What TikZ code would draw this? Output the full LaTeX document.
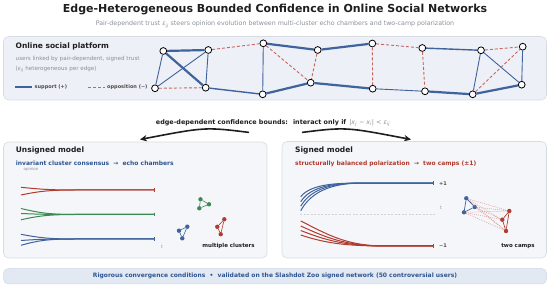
\documentclass[tikz,border=0pt]{standalone}
\usepackage{fontspec}
\setmainfont{DejaVu Sans}
\usetikzlibrary{arrows.meta}
\definecolor{supc}{HTML}{3F639C}
\definecolor{oppc}{HTML}{C8665E}
\definecolor{blueT}{HTML}{2F5590}
\definecolor{redT}{HTML}{B23A2E}
\definecolor{greenT}{HTML}{3A8A52}
\definecolor{grayT}{HTML}{8A8F98}
\definecolor{dark}{HTML}{1E1E1E}
\definecolor{panelA}{HTML}{EDF0F6}
\definecolor{panelB}{HTML}{F5F6F9}
\definecolor{panelE}{HTML}{D7DBE2}
\definecolor{barF}{HTML}{E2E9F3}
\definecolor{barE}{HTML}{CFD8E6}
\newcommand{\mysub}[1]{\textsubscript{#1}}
\tikzset{
  panel/.style={rounded corners=5pt, draw=panelE, line width=0.6pt},
  net/.style={circle, draw=black, fill=white, line width=0.8pt, inner sep=0pt, minimum size=6.8pt},
  thk/.style={supc, line width=2.2pt},
  med/.style={supc, line width=1.4pt},
  thn/.style={supc, line width=0.9pt},
  opp/.style={oppc, line width=0.9pt, dash pattern=on 3pt off 2pt},
  dotn/.style={circle, inner sep=0pt, minimum size=4.4pt},
  traj/.style={line width=1pt, -{Bar[width=3.5pt,line width=0.8pt]}},
  ttl/.style={font=\fontsize{7.5}{9}\selectfont\bfseries, text=dark, anchor=west, inner sep=0pt},
}
\begin{document}
\begin{tikzpicture}[x=1pt,y=-1pt]
\useasboundingbox (0,0) rectangle (550,286);

% title
\node[font=\fontsize{11}{12}\selectfont\bfseries, text=dark] (title) at (275,10) {Edge-Heterogeneous Bounded Confidence in Online Social Networks};
\node[font=\fontsize{6.3}{7}\selectfont, text=grayT] (sub) at (275,24.6) {Pair-dependent trust \textit{ε\mysub{ij}} steers opinion evolution between multi-cluster echo chambers and two-camp polarization};

% top panel
\fill[panelA, panel] (3.5,36.5) rectangle (546.5,100);
\node[ttl] (osp) at (15.5,46) {Online social platform};
\node[font=\fontsize{5.6}{7}\selectfont, text=grayT, anchor=west, inner sep=0pt] (u1) at (15.5,59) {users linked by pair-dependent, signed trust};
\node[font=\fontsize{5.6}{7}\selectfont, text=grayT, anchor=west, inner sep=0pt] (u2) at (15.5,69) {(\textit{ε\mysub{ij}} heterogeneous per edge)};
\coordinate (ls1) at (15,87); \coordinate (ls2) at (32,87);
\draw[thk] (ls1) -- (ls2);
\node[font=\fontsize{5}{6}\selectfont\bfseries, text=dark!80, anchor=west, inner sep=0pt] (lsup) at (34.5,87) {support (+)};
\coordinate (lo1) at (88,87); \coordinate (lo2) at (105,87);
\draw[opp] (lo1) -- (lo2);
\node[font=\fontsize{5}{6}\selectfont\bfseries, text=dark!80, anchor=west, inner sep=0pt] (lopp) at (107,87) {opposition (−)};

% network nodes
\node[net] (A) at (163.3,51) {};
\node[net] (B) at (208.3,50) {};
\node[net] (C) at (155,88.3) {};
\node[net] (D) at (205.7,87.7) {};
\node[net] (E) at (263.3,43.3) {};
\node[net] (F) at (317.7,50) {};
\node[net] (G) at (262.7,94.3) {};
\node[net] (H) at (310.7,82.7) {};
\node[net] (I) at (372.3,43.5) {};
\node[net] (J) at (422.3,48) {};
\node[net] (K) at (481,50.3) {};
\node[net] (L) at (522.7,46.7) {};
\node[net] (M) at (372.7,88.7) {};
\node[net] (N) at (425,91.3) {};
\node[net] (O) at (472.7,94.3) {};
\node[net] (P) at (521.7,84.7) {};

\draw[thk] (A) -- (B);
\draw[thn] (A) -- (C);
\draw[thk] (A) -- (D);
\draw[thn] (B) -- (C);
\draw[thn] (B) -- (D);
\draw[opp] (C) -- (D);
\draw[opp] (B) -- (E);
\draw[thk] (E) -- (F);
\draw[thn] (E) -- (G);
\draw[opp] (E) -- (H);
\draw[opp] (F) -- (H);
\draw[med] (D) -- (G);
\draw[thk] (G) -- (H);
\draw[thk] (H) -- (M);
\draw[thk] (F) -- (I);
\draw[opp] (I) -- (M);
\draw[opp] (I) -- (J);
\draw[med] (J) -- (K);
\draw[opp] (J) -- (N);
\draw[thn] (M) -- (N);
\draw[thk] (N) -- (O);
\draw[opp] (K) -- (L);
\draw[thn] (K) -- (O);
\draw[thn] (K) -- (P);
\draw[opp] (O) -- (L);
\draw[thn] (L) -- (P);
\draw[thk] (O) -- (P);

% middle text and arrows
\node[font=\fontsize{6.4}{7}\selectfont, text=dark, inner sep=0pt] (mid) at (273,123) {\textbf{edge-dependent confidence bounds:}\hspace{5pt}\textbf{interact only if}\hspace{3pt}\textcolor{grayT}{\textit{|x\mysub{j} − x\mysub{i}| < ε\mysub{ij}}}};
\coordinate (la1) at (249,132.4); \coordinate (la2) at (140,139.5);
\coordinate (ra1) at (302,132.4); \coordinate (ra2) at (411,139.5);
\draw[dark, line width=1.6pt, -{Stealth[length=7pt,width=6.5pt]}] (la1) .. controls (205,127) .. (la2);
\draw[dark, line width=1.6pt, -{Stealth[length=7pt,width=6.5pt]}] (ra1) .. controls (346,127) .. (ra2);

% left panel
\fill[panelB, panel] (3.5,142) rectangle (267,258);
\node[ttl] (um) at (15.7,150.7) {Unsigned model};
\node[font=\fontsize{6}{7}\selectfont\bfseries, text=blueT, anchor=west, inner sep=0pt] (ua) at (15.7,163.7) {invariant cluster consensus \ → \ echo chambers};
\node[font=\fontsize{4}{5}\selectfont, text=grayT, anchor=west, inner sep=0pt] (op) at (23.5,169.8) {opinion};

\draw[traj, redT] (21,187.3) .. controls (38,189) and (48,190) .. (75,190) -- (155,190);
\draw[traj, redT] (21,195) .. controls (38,191.5) and (48,190) .. (75,190) -- (155,190);
\draw[traj, greenT] (21,208.5) .. controls (38,212.5) and (48,214.5) .. (75,214.5) -- (155,214.5);
\draw[traj, greenT] (21,213.5) .. controls (38,214.2) and (48,214.5) .. (75,214.5) -- (155,214.5);
\draw[traj, greenT] (21,219.8) .. controls (38,216) and (48,214.5) .. (75,214.5) -- (155,214.5);
\draw[traj, supc] (21,234.3) .. controls (38,237.5) and (48,239) .. (75,239) -- (155,239);
\draw[traj, supc] (21,240.5) .. controls (38,239.3) and (48,239) .. (75,239) -- (155,239);
\draw[traj, supc] (21,245.3) .. controls (38,240.5) and (48,239) .. (75,239) -- (155,239);
\node[font=\fontsize{4.5}{5}\selectfont, text=grayT, inner sep=0pt] (tl) at (162,246.5) {t};

\node[dotn, fill=greenT] (g1) at (200.5,199.3) {};
\node[dotn, fill=greenT] (g2) at (209,204.3) {};
\node[dotn, fill=greenT] (g3) at (199.3,208.3) {};
\draw[greenT, line width=0.6pt] (g1) -- (g2) -- (g3) -- (g1);
\node[dotn, fill=supc] (c1) at (179,230.7) {};
\node[dotn, fill=supc] (c2) at (187.3,226.7) {};
\node[dotn, fill=supc] (c3) at (182.3,238.3) {};
\draw[supc, line width=0.6pt] (c1) -- (c2) -- (c3) -- (c1);
\node[dotn, fill=redT] (e1) at (224.3,219.3) {};
\node[dotn, fill=redT] (e2) at (217.3,226.8) {};
\node[dotn, fill=redT] (e3) at (220.7,234.2) {};
\draw[redT, line width=0.6pt] (e1) -- (e2) -- (e3) -- (e1);
\node[font=\fontsize{5.5}{6}\selectfont\bfseries, text=dark, inner sep=0pt] (mc) at (228.5,246) {multiple clusters};

% right panel
\fill[panelB, panel] (282,141.5) rectangle (546.5,258);
\node[ttl] (sm) at (295,150.7) {Signed model};
\node[font=\fontsize{6}{7}\selectfont\bfseries, text=redT, anchor=west, inner sep=0pt] (sa) at (295,163.7) {structurally balanced polarization \ → \ two camps (±1)};

\coordinate (dl1) at (300,214.3); \coordinate (dl2) at (436,214.3);
\draw[gray!35, line width=0.5pt, dash pattern=on 2pt off 1.5pt] (dl1) -- (dl2);
\draw[traj, supc] (300.7,196.7) .. controls (306,190) and (318,183.5) .. (350,183.2) -- (434,183.2);
\draw[traj, supc] (300.7,201.7) .. controls (307,192) and (320,184) .. (352,183.2) -- (434,183.2);
\draw[traj, supc] (300.7,206.2) .. controls (308,194) and (322,184.2) .. (354,183.2) -- (434,183.2);
\draw[traj, supc] (300.7,210.7) .. controls (309,196) and (324,184.5) .. (356,183.2) -- (434,183.2);
\draw[traj, redT] (300.7,221) .. controls (325,233) and (345,246) .. (385,246) -- (434,246);
\draw[traj, redT] (300.7,226) .. controls (325,237) and (345,246) .. (385,246) -- (434,246);
\draw[traj, redT] (300.7,230.5) .. controls (325,240) and (345,246) .. (385,246) -- (434,246);
\draw[traj, redT] (300.7,235) .. controls (325,243) and (345,246) .. (385,246) -- (434,246);
\node[font=\fontsize{5}{6}\selectfont\bfseries, text=dark!80, anchor=west, inner sep=0pt] (p1) at (439,183.2) {+1};
\node[font=\fontsize{5}{6}\selectfont\bfseries, text=dark!80, anchor=west, inner sep=0pt] (m1) at (439,246) {−1};
\node[font=\fontsize{4.5}{5}\selectfont, text=grayT, inner sep=0pt] (tr) at (441,207.7) {t};

\node[dotn, fill=supc] (b1) at (466.3,198.3) {};
\node[dotn, fill=supc] (b2) at (474.7,207) {};
\node[dotn, fill=supc] (b3) at (464,212.3) {};
\node[dotn, fill=redT] (r1) at (509.3,211) {};
\node[dotn, fill=redT] (r2) at (502.3,219.7) {};
\node[dotn, fill=redT] (r3) at (506,231) {};
\foreach \u in {b1,b2,b3} \foreach \v in {r1,r2,r3}
  \draw[oppc!70, line width=0.45pt, dash pattern=on 1pt off 1pt] (\u) -- (\v);
\draw[supc, line width=0.7pt] (b1) -- (b2) -- (b3) -- (b1);
\draw[redT, line width=0.7pt] (r1) -- (r2) -- (r3) -- (r1);
\node[font=\fontsize{5.5}{6}\selectfont\bfseries, text=dark, inner sep=0pt] (tc) at (518,246) {two camps};

% bottom bar
\fill[barF, rounded corners=5pt, draw=barE, line width=0.5pt] (3.5,268.5) rectangle (546.5,284);
\node[font=\fontsize{6}{7}\selectfont\bfseries, text=blueT, inner sep=0pt] (bb) at (275,276.2) {Rigorous convergence conditions \ • \ validated on the Slashdot Zoo signed network (50 controversial users)};
\end{tikzpicture}
\end{document}
